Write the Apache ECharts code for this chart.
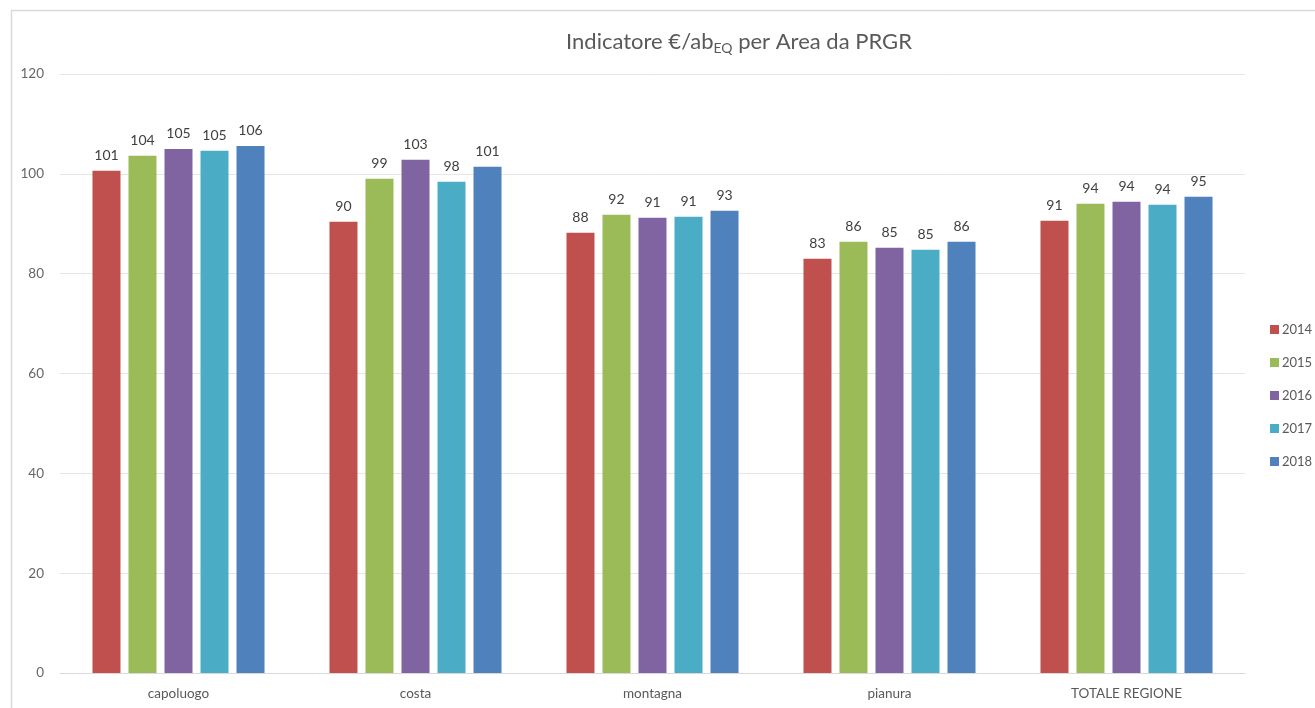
<!DOCTYPE html>
<html><head><meta charset="utf-8">
<script src="https://cdn.jsdelivr.net/npm/echarts@6/dist/echarts.min.js"></script>
<style>html,body{margin:0;padding:0;background:#fff}#c{width:1315px;height:708px}</style>
</head><body><div id="c"></div>
<script>
const categories = ['capoluogo', 'costa', 'montagna', 'pianura', 'TOTALE REGIONE'];
const years = ['2014', '2015', '2016', '2017', '2018'];
const v2014 = [100.6, 90.4, 88.2, 83.0, 90.6];
const v2015 = [103.6, 99.0, 91.8, 86.4, 94.0];
const v2016 = [105.0, 102.8, 91.2, 85.2, 94.4];
const v2017 = [104.6, 98.4, 91.4, 84.8, 93.8];
const v2018 = [105.6, 101.4, 92.6, 86.4, 95.4];
const yTicks = [0, 20, 40, 60, 80, 100, 120];
const colors = ['#C0504D', '#9BBB59', '#8064A2', '#4BACC6', '#4F81BD'];
const allValues = [v2014, v2015, v2016, v2017, v2018];
const FONT = 'Lato, "Open Sans", sans-serif';

const chart = echarts.init(document.getElementById('c'));
chart.setOption({
  animation: false,
  textStyle: { fontFamily: FONT },
  graphic: [{
    type: 'rect', silent: true, z: -1,
    shape: { x: 11.5, y: 10.5, width: 1400, height: 800 },
    style: { fill: 'none', stroke: '#d9d9d9', lineWidth: 1.5 }
  }],
  title: {
    text: '{a|Indicatore €/ab}{s|EQ}{a| per Area da PRGR}',
    left: 734, top: 24, textAlign: 'center',
    textStyle: {
      fontWeight: 'normal',
      rich: {
        a: { fontSize: 22, color: '#595959', fontFamily: FONT, fontWeight: 'normal' },
        s: { fontSize: 14, color: '#595959', fontFamily: FONT, fontWeight: 'normal', padding: [12, 0, 0, 0] }
      }
    }
  },
  legend: {
    orient: 'vertical', left: 1265, top: 318,
    itemWidth: 9, itemHeight: 9, itemGap: 20,
    icon: 'rect',
    textStyle: { fontSize: 13, color: '#595959', fontFamily: FONT, padding: [0, 0, 0, -2] },
    data: years
  },
  grid: { left: 60, right: 70, top: 74, bottom: 35, containLabel: false },
  xAxis: {
    type: 'category', data: categories,
    axisLine: { lineStyle: { color: '#d9d9d9' } },
    axisTick: { show: false },
    axisLabel: { color: '#595959', fontSize: 13.5, margin: 14 }
  },
  yAxis: {
    type: 'value', min: yTicks[0], max: yTicks[yTicks.length - 1], interval: 20,
    axisLine: { show: false }, axisTick: { show: false },
    splitLine: { lineStyle: { color: '#e6e6e6' } },
    axisLabel: { color: '#666666', fontSize: 13.5, margin: 16 }
  },
  series: years.map((y, i) => ({
    name: y, type: 'bar', data: allValues[i],
    barWidth: 28, barGap: '28.6%',
    itemStyle: { color: colors[i] },
    label: {
      show: true, position: 'top', distance: 8, color: '#404040', fontSize: 14,
      formatter: p => Math.round(p.value)
    }
  }))
});
</script></body></html>
